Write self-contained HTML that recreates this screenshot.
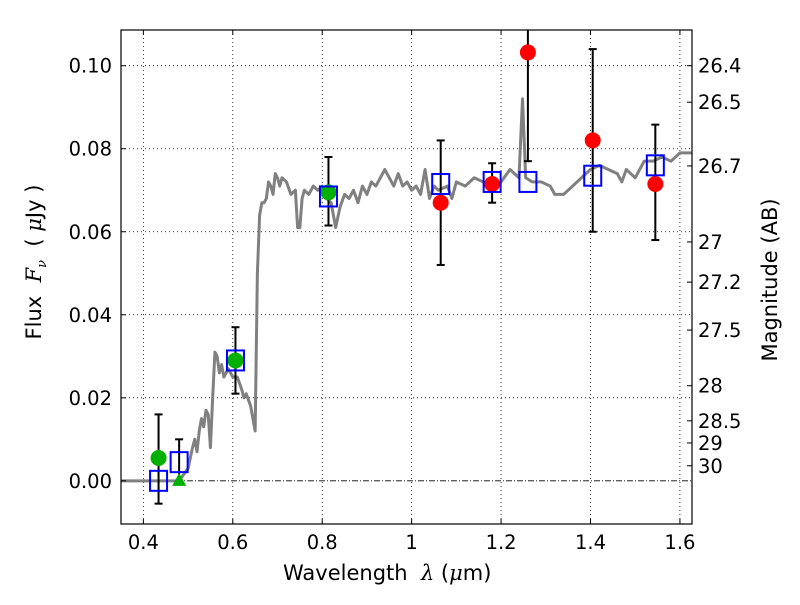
<!DOCTYPE html>
<html><head><meta charset="utf-8"><style>
body{margin:0;background:#fff;width:800px;height:600px;overflow:hidden}
svg{font-family:"DejaVu Sans","Liberation Sans",sans-serif}
</style></head><body>
<svg id="chart" width="800" height="600" xmlns="http://www.w3.org/2000/svg"></svg>
<script>
const specX=[0.35,0.48,0.50,0.51,0.515,0.52,0.525,0.53,0.535,0.54,0.545,0.55,0.555,0.56,0.565,0.57,0.575,0.58,0.59,0.6,0.61,0.62,0.625,0.63,0.64,0.65,0.655,0.66,0.665,0.67,0.675,0.68,0.685,0.69,0.695,0.70,0.705,0.71,0.72,0.73,0.74,0.745,0.75,0.755,0.76,0.77,0.78,0.79,0.80,0.81,0.82,0.83,0.84,0.85,0.86,0.87,0.88,0.89,0.90,0.91,0.92,0.93,0.94,0.95,0.96,0.97,0.98,0.99,1.0,1.01,1.02,1.03,1.04,1.05,1.06,1.08,1.09,1.10,1.12,1.14,1.16,1.18,1.20,1.22,1.24,1.248,1.255,1.27,1.29,1.31,1.32,1.34,1.36,1.38,1.40,1.42,1.44,1.46,1.47,1.48,1.50,1.52,1.54,1.56,1.58,1.60,1.627];
const specY=[0,0,0.003,0.008,0.010,0.007,0.012,0.015,0.013,0.017,0.016,0.008,0.020,0.031,0.030,0.026,0.028,0.025,0.027,0.025,0.025,0.022,0.020,0.021,0.018,0.012,0.050,0.064,0.067,0.067,0.068,0.072,0.071,0.069,0.074,0.073,0.071,0.073,0.072,0.069,0.070,0.061,0.061,0.068,0.070,0.069,0.071,0.070,0.071,0.068,0.067,0.061,0.066,0.069,0.068,0.070,0.067,0.071,0.069,0.072,0.071,0.073,0.075,0.073,0.071,0.074,0.071,0.072,0.070,0.071,0.069,0.075,0.068,0.071,0.070,0.071,0.068,0.072,0.071,0.073,0.072,0.071,0.072,0.075,0.073,0.092,0.073,0.072,0.072,0.071,0.069,0.069,0.071,0.073,0.075,0.076,0.075,0.074,0.072,0.075,0.073,0.077,0.077,0.078,0.077,0.079,0.079];
const modelX=[0.434,0.48,0.606,0.814,1.065,1.18,1.26,1.405,1.545];
const modelY=[0.0,0.0045,0.029,0.0685,0.0715,0.072,0.072,0.0735,0.076];
const errX=[0.434,0.48,0.606,0.814,1.065,1.18,1.26,1.405,1.545];
const errLo=[-0.0055,0.0,0.021,0.0615,0.052,0.067,0.077,0.060,0.058];
const errHi=[0.016,0.010,0.037,0.078,0.082,0.0765,0.115,0.104,0.0858];
const greenX=[0.434,0.606,0.814];
const greenY=[0.0055,0.029,0.0695];
const triX=[0.48];
const triY=[0.0];
const redX=[1.065,1.18,1.26,1.405,1.545];
const redY=[0.067,0.0715,0.1032,0.082,0.0715];
const xTicks=[0.4,0.6,0.8,1.0,1.2,1.4,1.6];
const xTickLabels=["0.4","0.6","0.8","1","1.2","1.4","1.6"];
const yTicks=[0,0.02,0.04,0.06,0.08,0.10];
const yTickLabels=["0.00","0.02","0.04","0.06","0.08","0.10"];
const magTicks=[26.4,26.5,26.7,27,27.2,27.5,28,28.5,29,30];
const magLabels=["26.4","26.5","26.7","27","27.2","27.5","28","28.5","29","30"];

const L=121,R=692,T=30,B=524;
const X0=0.35,X1=1.627,Y0=-0.0104,Y1=0.1086;
const sx=v=>L+(v-X0)/(X1-X0)*(R-L);
const sy=v=>B-(v-Y0)/(Y1-Y0)*(B-T);
const svg=document.getElementById('chart');
const NS='http://www.w3.org/2000/svg';
function mk(tag,attrs,parent){const e=document.createElementNS(NS,tag);for(const k in attrs)e.setAttribute(k,attrs[k]);(parent||svg).appendChild(e);return e;}

const clip=mk('clipPath',{id:'pc'});mk('rect',{x:L,y:T,width:R-L,height:B-T},clip);
xTicks.forEach((t,i)=>{const g=mk('line',{x1:sx(t),x2:sx(t),y1:T,y2:B,stroke:'#000','stroke-width':0.8,'stroke-dasharray':'1,3'});

});
yTicks.forEach((t,i)=>{const g=mk('line',{x1:L,x2:R,y1:sy(t),y2:sy(t),stroke:'#000','stroke-width':0.8,'stroke-dasharray':t===0?'6,2,1,2':'1,3'});

});
const sp=mk('polyline',{points:specX.map((x,i)=>sx(x)+','+sy(specY[i])).join(' '),fill:'none',stroke:'#808080','stroke-width':3,'stroke-linejoin':'round','clip-path':'url(#pc)'});


errX.forEach((x,i)=>{const g=mk('g',{stroke:'#000','stroke-width':2,'clip-path':'url(#pc)'});


mk('line',{x1:sx(x),x2:sx(x),y1:sy(errLo[i]),y2:sy(errHi[i])},g);
mk('line',{x1:sx(x)-4,x2:sx(x)+4,y1:sy(errLo[i]),y2:sy(errLo[i])},g);
mk('line',{x1:sx(x)-4,x2:sx(x)+4,y1:sy(errHi[i]),y2:sy(errHi[i])},g);});
greenX.forEach((x,i)=>{const c=mk('circle',{cx:sx(x),cy:sy(greenY[i]),r:8,fill:'#00b000'});

});
triX.forEach((x,i)=>{const cx=sx(x),cy=sy(triY[i]);const t=mk('polygon',{points:`${cx},${cy-8} ${cx-7},${cy+5} ${cx+7},${cy+5}`,fill:'#00b000'});

});
redX.forEach((x,i)=>{const c=mk('circle',{cx:sx(x),cy:sy(redY[i]),r:8,fill:'#ff0000'});

});
modelX.forEach((x,i)=>{const s=mk('rect',{x:sx(x)-8.5,y:sy(modelY[i])-10,width:17,height:20,fill:'none',stroke:'#0000ff','stroke-width':2});

});
const fr=mk('rect',{x:L,y:T,width:R-L,height:B-T,fill:'none',stroke:'#000','stroke-width':1.2});


xTicks.forEach((t,i)=>{mk('line',{x1:sx(t),x2:sx(t),y1:B,y2:B-5,stroke:'#000'});mk('line',{x1:sx(t),x2:sx(t),y1:T,y2:T+5,stroke:'#000'});
const tx=mk('text',{x:sx(t),y:B+25,'font-size':19.5,'text-anchor':'middle'});tx.textContent=xTickLabels[i];

});
yTicks.forEach((t,i)=>{mk('line',{x1:L,x2:L+5,y1:sy(t),y2:sy(t),stroke:'#000'});
const tx=mk('text',{x:112,y:sy(t)+7,'font-size':19.5,'text-anchor':'end'});tx.textContent=yTickLabels[i];

});
magTicks.forEach((m,i)=>{const f=Math.pow(10,(23.9-m)/2.5);const y=sy(f);mk('line',{x1:R,x2:R-5,y1:y,y2:y,stroke:'#000'});
const tx=mk('text',{x:698,y:y+7,'font-size':19.5});tx.textContent=magLabels[i];

});
</script>
<div style="position:absolute;left:283px;top:561px;font:21px 'DejaVu Sans',sans-serif">Wavelength&nbsp; <i style="font-family:'DejaVu Serif',serif">λ</i> (<i style="font-family:'DejaVu Serif',serif">μ</i>m)</div>
<div style="position:absolute;left:36px;top:262px;transform:translate(-50%,-50%) rotate(-90deg);white-space:nowrap;font:21px 'DejaVu Sans',sans-serif">Flux&nbsp; <i style="font-family:'DejaVu Serif',serif">F<sub style="font-size:13px">ν</sub></i>&nbsp; ( <i style="font-family:'DejaVu Serif',serif">μ</i>Jy )</div>
<div style="position:absolute;left:770px;top:280px;transform:translate(-50%,-50%) rotate(-90deg);white-space:nowrap;font:21px 'DejaVu Sans',sans-serif">Magnitude (AB)</div>
</body></html>
